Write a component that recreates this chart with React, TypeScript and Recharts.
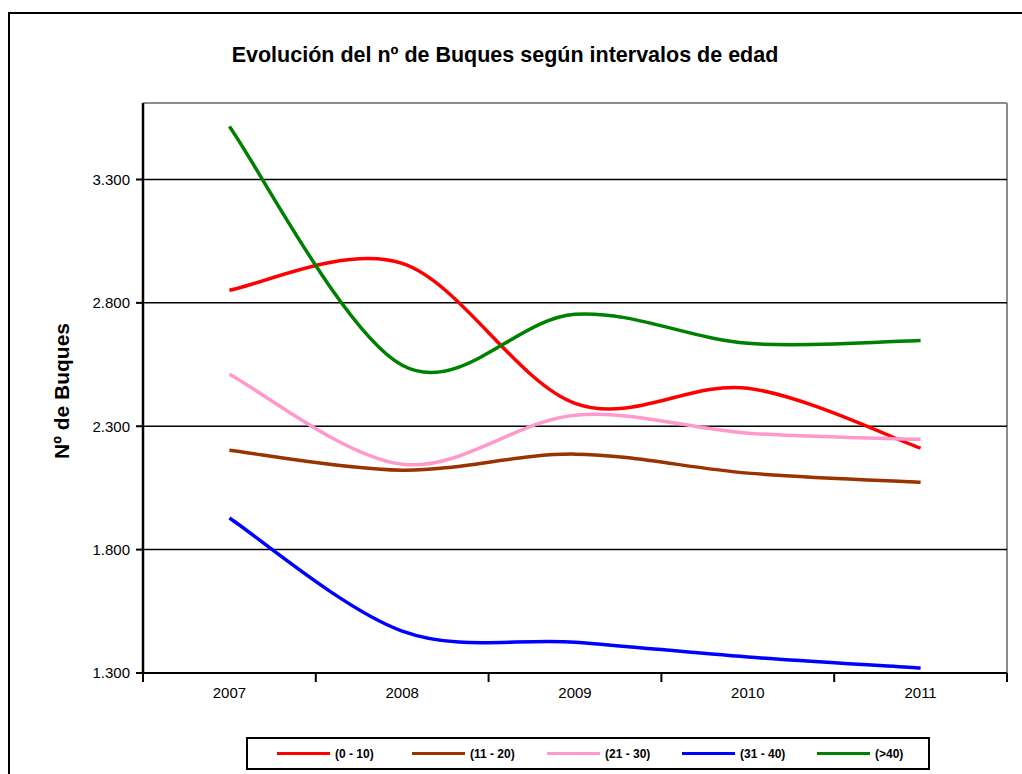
import React from "react";
import { LineChart, Line, XAxis, YAxis, CartesianGrid } from "recharts";

const YEARS = ["2007", "2008", "2009", "2010", "2011"];

const SERIES_NAMES = ["(0 - 10)", "(11 - 20)", "(21 - 30)", "(31 - 40)", "(>40)"];
const SERIES_COLORS = ["#FF0000", "#993300", "#FF99CC", "#0000FF", "#008000"];

const AGE_0_10 = [2851, 2960, 2393, 2454, 2211];
const AGE_11_20 = [2203, 2122, 2187, 2110, 2073];
const AGE_21_30 = [2511, 2146, 2345, 2272, 2247];
const AGE_31_40 = [1928, 1470, 1425, 1365, 1320];
const AGE_40_PLUS = [3515, 2547, 2754, 2636, 2648];

const SERIES_VALUES = [AGE_0_10, AGE_11_20, AGE_21_30, AGE_31_40, AGE_40_PLUS];
const SERIES_KEYS = ["s0", "s1", "s2", "s3", "s4"];

const Y_TICKS = [1300, 1800, 2300, 2800, 3300];
const Y_DOMAIN = [1300, 3610];

const TITLE = "Evolución del nº de Buques según intervalos de edad";
const Y_LABEL = "Nº de Buques";

const data = YEARS.map((year, i) => {
  const row: Record<string, string | number> = { year };
  SERIES_KEYS.forEach((k, s) => (row[k] = SERIES_VALUES[s][i]));
  return row;
});

const FONT = "'Liberation Sans', Arial, sans-serif";
const W = 1022;
const H = 774;
const PLOT_LEFT = 143;
const PLOT_RIGHT = 1007;
const PLOT_TOP = 103;
const PLOT_BOTTOM = 673;
const HALF_STEP = (PLOT_RIGHT - PLOT_LEFT) / YEARS.length / 2;
const BORDER_GREY = "#8c8c8c";

// Excel-like smoothed line (Catmull-Rom through the points)
const excelCurve = (context: any) => {
  let pts: [number, number][] = [];
  return {
    areaStart() {},
    areaEnd() {},
    lineStart() {
      pts = [];
    },
    lineEnd() {
      if (!pts.length) return;
      context.moveTo(pts[0][0], pts[0][1]);
      for (let i = 0; i < pts.length - 1; i++) {
        const p0 = pts[i - 1] || pts[i];
        const p1 = pts[i];
        const p2 = pts[i + 1];
        const p3 = pts[i + 2] || p2;
        context.bezierCurveTo(
          p1[0] + (p2[0] - p0[0]) / 6,
          p1[1] + (p2[1] - p0[1]) / 6,
          p2[0] - (p3[0] - p1[0]) / 6,
          p2[1] - (p3[1] - p1[1]) / 6,
          p2[0],
          p2[1]
        );
      }
    },
    point(x: number, y: number) {
      pts.push([x, y]);
    },
  };
};

const fmt = (v: number) => v.toLocaleString("es-ES", { useGrouping: "always" } as any).replace(/\s/g, ".");

const YearTick = (props: any) => {
  const { x, y, payload, index } = props;
  const last = index === YEARS.length - 1;
  return (
    <g>
      <line x1={x - HALF_STEP} x2={x - HALF_STEP} y1={y} y2={y + 9} stroke="#000" strokeWidth={2} />
      {last && <line x1={x + HALF_STEP} x2={x + HALF_STEP} y1={y} y2={y + 9} stroke="#000" strokeWidth={2} />}
      <text x={x} y={y + 25} textAnchor="middle" fontSize={15} fontFamily={FONT} fill="#000">
        {payload.value}
      </text>
    </g>
  );
};

export default function App() {
  return (
    <div style={{ position: "absolute", left: 0, top: 0, width: W, height: H, overflow: "hidden", background: "#fff", fontFamily: FONT }}>
      <div style={{ position: "absolute", left: 8, top: 12, width: W + 20, height: H + 20, border: "2px solid #000" }} />
      <div style={{ position: "absolute", left: 0, top: 0 }}>
        <LineChart
          width={W}
          height={H}
          data={data}
          margin={{ top: PLOT_TOP, right: W - PLOT_RIGHT, left: PLOT_LEFT - 80, bottom: H - PLOT_BOTTOM - 40 }}
        >
          {/* plot-area frame: grey top and right edges */}
          <CartesianGrid
            horizontalCoordinatesGenerator={({ offset }: any) => [offset.top]}
            verticalCoordinatesGenerator={({ offset }: any) => [offset.left + offset.width]}
            stroke={BORDER_GREY}
            strokeWidth={2}
            strokeOpacity={1}
          />
          <CartesianGrid vertical={false} horizontalValues={Y_TICKS} stroke="#000" strokeWidth={1.5} strokeOpacity={1} />
          <XAxis
            dataKey="year"
            height={40}
            padding={{ left: HALF_STEP, right: HALF_STEP }}
            axisLine={{ stroke: "#000", strokeWidth: 2 }}
            tickLine={false}
            tickSize={0}
            tickMargin={0}
            tick={<YearTick />}
            interval={0}
          />
          <YAxis
            width={80}
            domain={Y_DOMAIN}
            ticks={Y_TICKS}
            interval={0}
            allowDataOverflow
            tickFormatter={fmt}
            axisLine={{ stroke: "#000", strokeWidth: 2.5 }}
            tickLine={{ stroke: "#000", strokeWidth: 2 }}
            tickSize={7}
            tickMargin={6}
            tick={{ fill: "#000", fontSize: 15, fontFamily: FONT }}
          />
          {SERIES_KEYS.map((k, s) => (
            <Line
              key={k}
              dataKey={k}
              name={SERIES_NAMES[s]}
              type={excelCurve as any}
              stroke={SERIES_COLORS[s]}
              strokeWidth={3.5}
              dot={false}
              activeDot={false}
              isAnimationActive={false}
            />
          ))}
        </LineChart>
      </div>

      <div
        style={{
          position: "absolute",
          left: 505 - 400,
          width: 800,
          top: 43,
          textAlign: "center",
          fontSize: 21.5,
          fontWeight: "bold",
          color: "#000",
          whiteSpace: "nowrap",
        }}
      >
        {TITLE}
      </div>

      <div
        style={{
          position: "absolute",
          left: 62,
          top: (PLOT_TOP + PLOT_BOTTOM) / 2 + 3,
          transform: "translate(-50%, -50%) rotate(-90deg)",
          whiteSpace: "nowrap",
          fontSize: 21,
          fontWeight: "bold",
          color: "#000",
        }}
      >
        {Y_LABEL}
      </div>

      <div
        style={{
          position: "absolute",
          left: 246,
          top: 737,
          width: 684,
          height: 33,
          border: "2px solid #000",
          display: "flex",
          alignItems: "center",
          paddingLeft: 29,
          boxSizing: "border-box",
        }}
      >
        {SERIES_NAMES.map((name, s) => (
          <div key={name} style={{ display: "flex", alignItems: "center", width: 135, flex: "none" }}>
            <div style={{ width: 53, height: 3, background: SERIES_COLORS[s] }} />
            <span style={{ marginLeft: 5, fontSize: 12, fontWeight: "bold", color: "#000" }}>{name}</span>
          </div>
        ))}
      </div>
    </div>
  );
}
